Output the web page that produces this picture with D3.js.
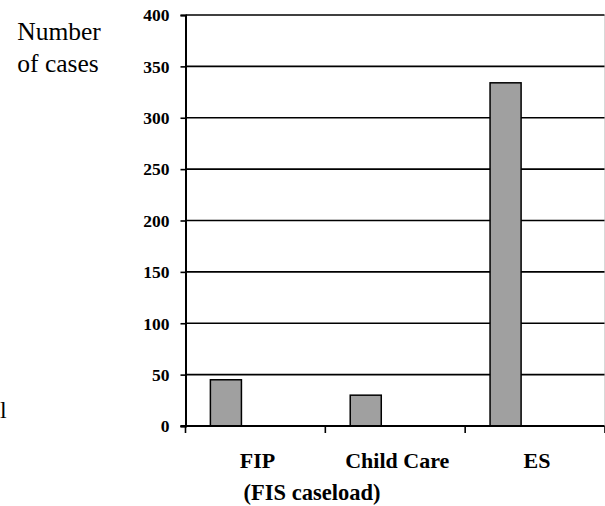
<!DOCTYPE html>
<html>
<head>
<meta charset="utf-8">
<script src="https://cdn.jsdelivr.net/npm/d3@7"></script>
<style>
  html, body { margin: 0; padding: 0; background: #fff; }
  svg { display: block; }
  text { font-family: "Liberation Serif", "Times New Roman", serif; fill: #000; }
</style>
</head>
<body>
<svg id="chart" width="605" height="506"></svg>
<script>
// Cases by program
const categories = ["FIP", "Child Care", "ES"];
const cases = [45, 30, 334];
const yTicks = [0, 50, 100, 150, 200, 250, 300, 350, 400];

const svg = d3.select("#chart");
const plotLeft = 185.5, plotRight = 604.5, plotTop = 15, plotBottom = 426;

const x = d3.scaleBand().domain(categories).range([plotLeft, plotRight + 0.5]).padding(0);
const y = d3.scaleLinear().domain([0, 400]).range([plotBottom, plotTop]);

// light frame on the right edge of the plot area
svg.append("line")
  .attr("x1", plotRight).attr("x2", plotRight)
  .attr("y1", plotTop).attr("y2", plotBottom)
  .attr("stroke", "#d8d8d8").attr("stroke-width", 1);

// horizontal gridlines
svg.append("g")
  .selectAll("line")
  .data(yTicks.filter(d => d > 0))
  .join("line")
  .attr("x1", plotLeft).attr("x2", plotRight)
  .attr("y1", d => y(d)).attr("y2", d => y(d))
  .attr("stroke", "#000").attr("stroke-width", 1.6);

// bars
const data = categories.map((c, i) => ({ c, v: cases[i] }));
const bw = x.bandwidth();
svg.append("g")
  .selectAll("rect")
  .data(data)
  .join("rect")
  .attr("x", d => x(d.c) + bw * 0.178)
  .attr("width", bw * 0.222)
  .attr("y", d => y(d.v))
  .attr("height", d => y(0) - y(d.v))
  .attr("fill", "#a0a0a0")
  .attr("stroke", "#000")
  .attr("stroke-width", 1.5);

// y axis
const yAxis = d3.axisLeft(y).tickValues(yTicks).tickSize(5).tickPadding(11);
const gy = svg.append("g").attr("transform", `translate(${plotLeft},0)`).call(yAxis);
gy.select(".domain").attr("stroke", "#000").attr("stroke-width", 2);
gy.selectAll(".tick line").attr("stroke", "#000").attr("stroke-width", 1.6);
gy.selectAll(".tick text")
  .attr("font-family", "Liberation Serif, serif")
  .attr("font-size", 17.5)
  .attr("font-weight", "bold")
  .attr("dy", "0.33em");

// x axis baseline with ticks at category boundaries
const boundaries = categories.map(c => x(c)).concat([plotRight + 0.5]);
svg.append("line")
  .attr("x1", plotLeft - 5).attr("x2", plotRight)
  .attr("y1", plotBottom).attr("y2", plotBottom)
  .attr("stroke", "#000").attr("stroke-width", 2);
svg.append("g")
  .selectAll("line")
  .data(boundaries)
  .join("line")
  .attr("x1", d => d).attr("x2", d => d)
  .attr("y1", plotBottom).attr("y2", plotBottom + 7)
  .attr("stroke", "#000").attr("stroke-width", 1.6);

// category labels
svg.append("g")
  .selectAll("text")
  .data(categories)
  .join("text")
  .attr("x", d => x(d) + bw / 2 + 2)
  .attr("y", 468)
  .attr("text-anchor", "middle")
  .attr("font-size", 22)
  .attr("font-weight", "bold")
  .text(d => d);

svg.append("text")
  .attr("x", 312).attr("y", 500)
  .attr("text-anchor", "middle")
  .attr("font-size", 22.5)
  .attr("font-weight", "bold")
  .text("(FIS caseload)");

// y axis title
const yTitle = svg.append("text")
  .attr("text-anchor", "middle")
  .attr("font-size", 25.5);
yTitle.append("tspan").attr("x", 59).attr("y", 40).text("Number");
yTitle.append("tspan").attr("x", 58).attr("y", 72).text("of cases");

// fragment of surrounding text at the left edge
svg.append("text")
  .attr("x", 0).attr("y", 418)
  .attr("font-size", 24)
  .text("l");
</script>
</body>
</html>
